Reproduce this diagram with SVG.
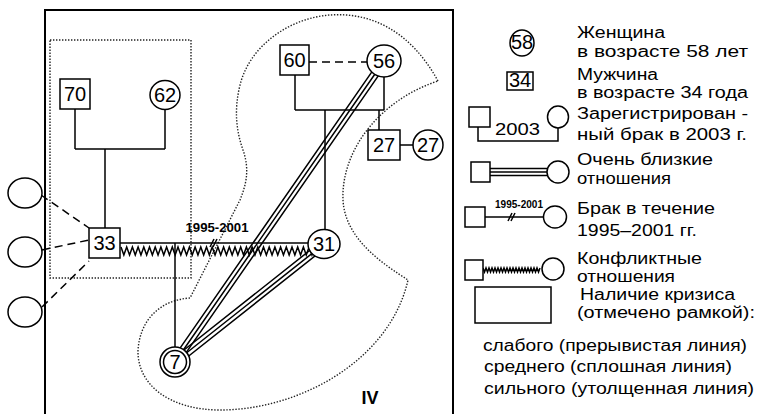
<svg xmlns="http://www.w3.org/2000/svg" width="757" height="414" viewBox="0 0 757 414">
<style>
  .ln{fill:none;stroke:#000;stroke-width:1.5}
  .nd{fill:#fff;stroke:#000;stroke-width:1.5}
  .dash{fill:none;stroke:#000;stroke-width:1.5;stroke-dasharray:8 5}
  .dot{fill:none;stroke:#222;stroke-width:1.4;stroke-dasharray:1.4 1.6}
  .lb{font-family:"Liberation Sans",Arial,sans-serif;font-size:20px;fill:#000;text-anchor:middle}
  .lg{font-family:"Liberation Sans",Arial,sans-serif;font-size:16px;fill:#000}
  .yr{font-family:"Liberation Sans",Arial,sans-serif;font-weight:bold;fill:#000;text-anchor:middle}
</style>
<rect width="757" height="414" fill="#fff"/>

<!-- frame and crisis outlines -->
<g id="frames">
  <path d="M45,414 V10 H453 V414" fill="none" stroke="#000" stroke-width="2"/>
  <rect class="dot" x="50" y="40" width="141" height="238"/>
  <path class="dot" d="M438,81 C410,30 370,12 330,15 C290,18 250,45 240,85 C234,110 236,130 243,150 C250,170 246,185 240,200 L190,298 C160,300 140,320 138,350 C137,385 170,410 220,410 C300,410 390,360 408,280 C385,265 345,240 343,200 C341,150 380,100 438,81 Z"/>
  <text x="370" y="404" font-family="'Liberation Sans',Arial,sans-serif" font-weight="bold" font-size="18" text-anchor="middle">IV</text>
</g>

<!-- connectors -->
<g id="connectors">
  <path class="ln" d="M75,109 V149 M165,110 V149 M75,149 H165 M105,149 V228"/>
  <path class="dash" d="M41,195 L89,228 M42,250 L89,240 M42,307 L89,261"/>
  <path class="ln" d="M120,243 H312"/>
  <path class="ln" stroke-width="1.3" d="M121,247 l2.85,8 2.85,-8 2.85,8 2.85,-8 2.85,8 2.85,-8 2.85,8 2.85,-8 2.85,8 2.85,-8 2.85,8 2.85,-8 2.85,8 2.85,-8 2.85,8 2.85,-8 2.85,8 2.85,-8 2.85,8 2.85,-8 2.85,8 2.85,-8 2.85,8 2.85,-8 2.85,8 2.85,-8 2.85,8 2.85,-8 2.85,8 2.85,-8 2.85,8 2.85,-8 2.85,8 2.85,-8 2.85,8 2.85,-8 2.85,8 2.85,-8 2.85,8 2.85,-8 2.85,8 2.85,-8 2.85,8 2.85,-8 2.85,8 2.85,-8 2.85,8 2.85,-8 2.85,8 2.85,-8 2.85,8 2.85,-8 2.85,8 2.85,-8 2.85,8 2.85,-8 2.85,8 2.85,-8 2.85,8 2.85,-8 2.85,8 2.85,-8 2.85,8 2.85,-8 2.85,8 2.85,-8 2.85,8 2.85,-8"/>
  <path class="ln" stroke-width="1.2" d="M210,247 L214,239 M213,247 L217,239"/>
  <text class="yr" x="217" y="232" font-size="13" textLength="63" lengthAdjust="spacingAndGlyphs">1995-2001</text>
  <path class="ln" d="M175,243 V347"/>
  <path class="dash" stroke-dasharray="7 5" d="M309,62 H367"/>
  <path class="ln" d="M295,75 V110 M384,77 V110 M295,110 H384 M325,110 V229 M379,110 V130 M400,145 H413"/>
  <path class="ln" stroke-width="1.3" d="M387.12,63.17 L178.12,364.17 M384,61 L175,362 M380.88,58.83 L171.88,359.83"/>
  <path class="ln" stroke-width="1.3" d="M326.36,246.98 L177.36,364.98 M324,244 L175,362 M321.64,241.02 L172.64,359.02"/>
</g>

<!-- nodes -->
<g id="n70"><rect class="nd" x="60" y="79" width="30" height="30"/><text class="lb" x="75" y="101">70</text></g>
<g id="n62"><ellipse class="nd" cx="165" cy="95" rx="15" ry="14.5"/><text class="lb" x="165" y="102">62</text></g>
<g id="n33"><rect class="nd" x="89" y="228" width="31" height="30"/><text class="lb" x="104.5" y="250">33</text></g>
<g id="c1"><ellipse class="nd" cx="25" cy="193" rx="17" ry="15"/></g>
<g id="c2"><ellipse class="nd" cx="25" cy="252" rx="17" ry="15"/></g>
<g id="c3"><ellipse class="nd" cx="25" cy="312" rx="17" ry="15"/></g>
<g id="n7"><circle class="nd" cx="175" cy="362" r="15" stroke-width="2"/><circle class="nd" cx="175" cy="362" r="11.5"/><text class="lb" x="175" y="369">7</text></g>
<g id="n31"><ellipse class="nd" cx="324" cy="244" rx="16" ry="14.5"/><text class="lb" x="324" y="251">31</text></g>
<g id="n60"><rect class="nd" x="280" y="45" width="29" height="30"/><text class="lb" x="294.5" y="67">60</text></g>
<g id="n56"><ellipse class="nd" cx="384" cy="61" rx="17" ry="16"/><text class="lb" x="384" y="68">56</text></g>
<g id="n27m"><rect class="nd" x="368" y="130" width="32" height="30"/><text class="lb" x="384" y="152">27</text></g>
<g id="n27f"><ellipse class="nd" cx="428" cy="145" rx="15" ry="15"/><text class="lb" x="428" y="152">27</text></g>

<!-- legend -->
<g id="legend">
  <ellipse class="nd" cx="522" cy="43" rx="12" ry="13"/>
  <text class="lb" x="522" y="48.5" font-size="15">58</text>
  <rect class="nd" x="507" y="72" width="26" height="18"/>
  <text class="lb" x="520" y="87" font-size="17">34</text>

  <rect class="nd" x="469" y="107" width="21" height="20"/>
  <ellipse class="nd" cx="558" cy="117" rx="10.5" ry="11"/>
  <path class="ln" d="M478,127 V141 H558 V128"/>
  <text class="lg" x="495" y="135" font-size="17" textLength="45" lengthAdjust="spacingAndGlyphs">2003</text>

  <path class="ln" stroke-width="1.3" d="M490,168.5 H547 M490,172 H547 M490,175.5 H547"/>
  <rect class="nd" x="471" y="162" width="19" height="20"/>
  <ellipse class="nd" cx="558" cy="172" rx="11" ry="11"/>

  <path class="ln" d="M485,217 H544"/>
  <path class="ln" stroke-width="1.1" d="M508,221 L512,213 M511,221 L515,213"/>
  <text class="yr" x="519" y="208" font-size="10" textLength="48" lengthAdjust="spacingAndGlyphs">1995-2001</text>
  <rect class="nd" x="465" y="207" width="20" height="20"/>
  <ellipse class="nd" cx="555" cy="217" rx="11.5" ry="11"/>

  <path class="ln" stroke-width="1.1" d="M483,268 l1.5,4 1.5,-4 1.5,4 1.5,-4 1.5,4 1.5,-4 1.5,4 1.5,-4 1.5,4 1.5,-4 1.5,4 1.5,-4 1.5,4 1.5,-4 1.5,4 1.5,-4 1.5,4 1.5,-4 1.5,4 1.5,-4 1.5,4 1.5,-4 1.5,4 1.5,-4 1.5,4 1.5,-4 1.5,4 1.5,-4 1.5,4 1.5,-4 1.5,4 1.5,-4 1.5,4 1.5,-4 1.5,4 1.5,-4 1.5,4 1.5,-4"/>
  <rect class="nd" x="465" y="260" width="18" height="20"/>
  <ellipse class="nd" cx="553" cy="269" rx="11" ry="11"/>

  <rect class="nd" x="475" y="287" width="76" height="36" stroke-width="1.3"/>

  <text class="lg" x="577" y="38" textLength="88" lengthAdjust="spacingAndGlyphs">Женщина</text>
  <text class="lg" x="577" y="57" textLength="171" lengthAdjust="spacingAndGlyphs">в возрасте 58 лет</text>
  <text class="lg" x="577" y="80" textLength="81" lengthAdjust="spacingAndGlyphs">Мужчина</text>
  <text class="lg" x="577" y="98" textLength="171" lengthAdjust="spacingAndGlyphs">в возрасте 34 года</text>
  <text class="lg" x="577" y="119" textLength="171" lengthAdjust="spacingAndGlyphs">Зарегистрирован -</text>
  <text class="lg" x="577" y="140" textLength="170" lengthAdjust="spacingAndGlyphs">ный брак в 2003 г.</text>
  <text class="lg" x="577" y="165" textLength="136" lengthAdjust="spacingAndGlyphs">Очень близкие</text>
  <text class="lg" x="577" y="184" textLength="94" lengthAdjust="spacingAndGlyphs">отношения</text>
  <text class="lg" x="577" y="214" textLength="138" lengthAdjust="spacingAndGlyphs">Брак в течение</text>
  <text class="lg" x="577" y="236" textLength="120" lengthAdjust="spacingAndGlyphs">1995–2001 гг.</text>
  <text class="lg" x="577" y="264" textLength="125" lengthAdjust="spacingAndGlyphs">Конфликтные</text>
  <text class="lg" x="577" y="282" textLength="98" lengthAdjust="spacingAndGlyphs">отношения</text>
  <text class="lg" x="580" y="300" textLength="155" lengthAdjust="spacingAndGlyphs">Наличие кризиса</text>
  <text class="lg" x="577" y="318" textLength="178" lengthAdjust="spacingAndGlyphs">(отмечено рамкой):</text>
  <text class="lg" x="483" y="351" textLength="264" lengthAdjust="spacingAndGlyphs">слабого (прерывистая линия)</text>
  <text class="lg" x="484" y="372" textLength="248" lengthAdjust="spacingAndGlyphs">среднего (сплошная линия)</text>
  <text class="lg" x="484" y="394" textLength="270" lengthAdjust="spacingAndGlyphs">сильного (утолщенная линия)</text>
</g>
</svg>
